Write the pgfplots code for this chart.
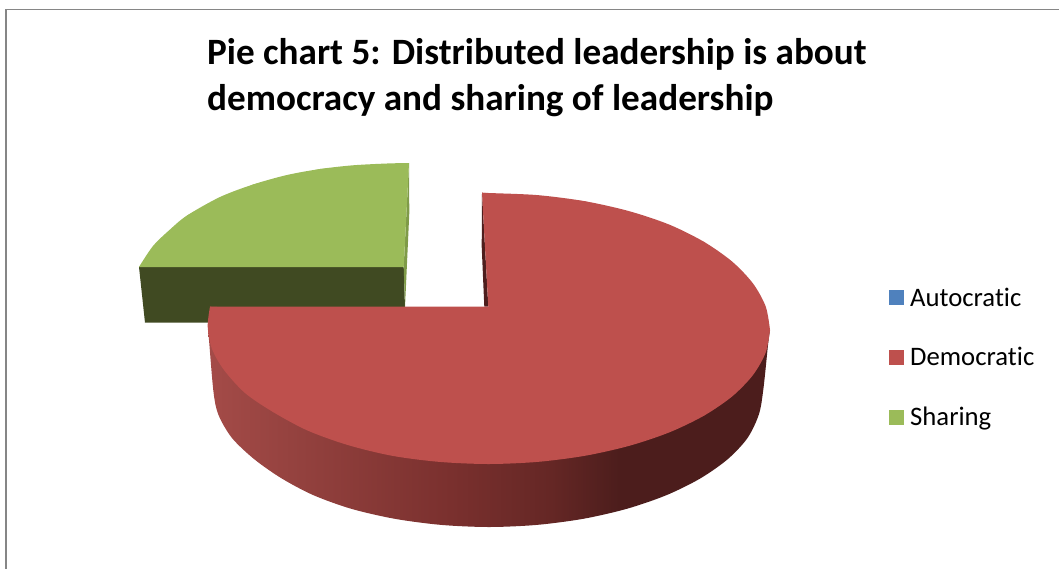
\documentclass[border=0pt]{standalone}
\usepackage{fontspec}
\setmainfont[Ligatures=NoCommon]{Carlito}
\usepackage{pgfplots}
\pgfplotsset{compat=1.18}

\definecolor{redtop}{HTML}{BE504D}
\definecolor{reddark}{HTML}{4E1E1D}
\definecolor{greentop}{HTML}{9BBB59}
\definecolor{greenside}{HTML}{7F9B48}
\definecolor{greendark}{HTML}{404A22}
\definecolor{autoblue}{HTML}{4F81BD}
\definecolor{framegrey}{HTML}{868686}
\definecolor{sidea}{HTML}{A44B48}
\definecolor{sideb}{HTML}{93413E}
\definecolor{sidec}{HTML}{7A302E}
\definecolor{sided}{HTML}{652725}
\definecolor{sidee}{HTML}{4C1D1C}

\pgfdeclarehorizontalshading{sidered}{100bp}{%
  color(0bp)=(sidea); color(25bp)=(sidea); color(33.3bp)=(sideb);
  color(46.6bp)=(sidec); color(55.5bp)=(sided); color(61.7bp)=(sidee);
  color(100bp)=(sidee)}

\begin{document}
\begin{tikzpicture}
\begin{axis}[
    scale only axis,
    width=1059bp, height=569bp,
    xmin=0, xmax=1059,
    ymin=0, ymax=569,
    y dir=reverse,
    hide axis,
    legend style={draw=none, fill=none, font=\fontsize{26.8}{30}\selectfont,
      at={(axis cs:886,283.5)}, anchor=north west, row sep=36bp},
    legend cell align=left,
    legend image code/.code={\fill[#1] (0bp,-7.5bp) rectangle (15bp,7.5bp); \path (19bp,0bp);},
]

% chart frame
\addplot[framegrey, line width=1.3bp, no markers, forget plot] coordinates {
  (6,569) (6,9.5) (1059,9.5)
};

% Sharing, 25 %: front face, inner sliver, top
\addplot[draw=none, fill=greendark, no markers, forget plot] coordinates {
  (139,267) (403.7,267) (405.5,322.7) (145,322.7)
} -- cycle;
\addplot[draw=none, fill=greenside, no markers, forget plot] coordinates {
  (409,163) (409.3,213) (405,307) (403.7,267)
} -- cycle;
\addplot[draw=none, fill=greentop, no markers, forget plot, smooth] coordinates {
  (139,267) (153,246) (170,229.5) (187,215.5) (220,197) (253,184.5)
  (287,175) (320,169) (353,165.3) (387,163.5) (409,163)
};
\addplot[draw=none, fill=greentop, no markers, forget plot] coordinates {
  (139,267) (187,215.5) (253,184.5) (320,169) (409,163) (403.7,267)
} -- cycle;

% Democratic, 75 %: outer wall, inner sliver, top
\addplot[draw=none, shading=sidered, no markers, forget plot, smooth] coordinates {
  (770,330) (768,345) (763.5,388) (759,414) (747.5,438) (727.6,459.3)
  (700,478.6) (666.1,495.3) (626.8,508.8) (583.2,518.8) (536.8,524.9) (489,527)
  (441.2,524.9) (394.8,518.8) (351.3,508.8) (313,495) (281,478)
  (254,459) (232,438) (218.5,415) (213.5,392) (209,340) (208,330)
};
\addplot[draw=none, fill=reddark, no markers, forget plot] coordinates {
  (482,192.7) (481.7,246.7) (484.3,306.7) (488.3,306.7)
} -- cycle;
\addplot[draw=none, fill=redtop, no markers, forget plot, smooth] coordinates {
  (482,192.7) (488.5,193) (537.4,195.1) (584.8,201.2) (629.3,211.2) (669.5,224.7)
  (704.1,241.9) (732.3,261.7) (753,283.5) (765.7,306.5) (770,330)
};
\addplot[draw=none, fill=redtop, no markers, forget plot, smooth] coordinates {
  (770,330) (765.7,352.5)
  (753,375) (732.3,396.3) (704.1,415.6) (669.5,432.3) (629.3,445.8)
  (584.8,455.8) (537.4,461.9) (488.5,464) (439.6,461.9) (392.2,455.8)
  (347.7,445) (307.5,430.5) (273,412) (245,393) (224,370)
  (212,349) (207.7,326.7) (210,306.7)
};
\addplot[draw=none, fill=redtop, no markers, forget plot] coordinates {
  (482,192.7) (584.8,201.2) (704.1,241.9) (770,330) (704.1,415.6) (488.5,464)
  (273,412) (210,306.7) (488.3,306.7)
} -- cycle;

\addlegendimage{fill=autoblue, draw=none}
\addlegendentry{Autocratic}
\addlegendimage{fill=redtop, draw=none}
\addlegendentry{Democratic}
\addlegendimage{fill=greentop, draw=none}
\addlegendentry{Sharing}

\node[anchor=base west, inner sep=0pt, font=\fontsize{37.3}{45}\selectfont\bfseries]
  at (axis cs:207,65) {Pie chart 5: Distributed leadership is about};
\node[anchor=base west, inner sep=0pt, font=\fontsize{37.3}{45}\selectfont\bfseries]
  at (axis cs:207,110) {democracy and sharing of leadership};
\end{axis}
\pgfresetboundingbox
\path[use as bounding box] (0,0) rectangle (1059bp,569bp);
\end{tikzpicture}
\end{document}
